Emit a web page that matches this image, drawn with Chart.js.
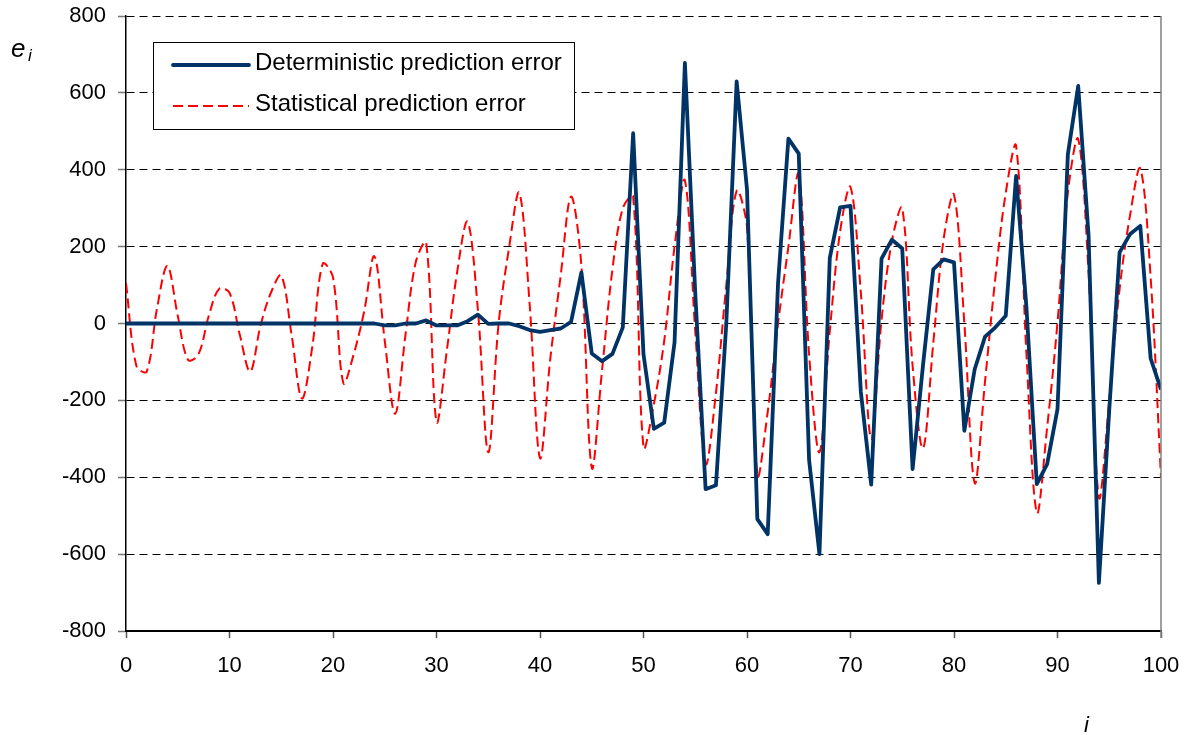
<!DOCTYPE html>
<html lang="en">
<head>
    <meta charset="UTF-8">
    <title>Prediction error</title>
    <script src="https://cdn.jsdelivr.net/npm/chart.js"></script>
    <style>
        body {
            margin: 0;
            background-color: #fff;
        }

        .chart-box {
            width: 1190px;
            height: 735px;
        }
    </style>
</head>
<body>
    <div class="chart-box">
        <canvas id="errChart" width="1190" height="735"></canvas>
    </div>

    <script>
        // step index i = 0..100
        const steps = [];
        for (let i = 0; i <= 100; i++) steps.push(i);

        // deterministic prediction error (solid blue)
        const deterministic = [
            0, 0, 0, 0, 0, 0, 0, 0, 0, 0,
            0, 0, 0, 0, 0, 0, 0, 0, 0, 0,
            0, 0, 0, 0, 0, -5, -5, 0, 0, 8,
            -5, -5, -5, 6, 23, -1, 0, 0, -7, -17,
            -22, -17, -13, 4, 133, -78, -98, -79, -10, 495,
            -80, -274, -258, -49, 678, 80, -431, -421, 0, 630,
            349, -509, -548, 105, 481, 442, -355, -600, 171, 302,
            306, -178, -419, 169, 218, 195, -379, -110, 141, 167,
            159, -279, -119, -34, -10, 20, 384, 42, -418, -366,
            -223, 440, 618, 230, -675, -225, 185, 232, 254, -91,
            -172
        ];

        // statistical prediction error (dashed red)
        const statistical = [
            105, -110, -125, 40, 150, 20, -95, -80, 20, 90,
            80, -30, -125, -5, 80, 125, -30, -195, -60, 155,
            120, -155, -80, 30, 175, -45, -235, -30, 160, 210,
            -255, -70, 135, 265, 35, -335, 0, 195, 340, 50,
            -350, -90, 125, 330, 150, -375, -120, 141, 300, 330,
            -322, -210, -45, 200, 372, -20, -365, -180, 100, 345,
            250, -395, -230, 0, 200, 388, -80, -335, -20, 240,
            355, 80, -300, 10, 215, 300, -110, -325, -50, 220,
            335, 0, -415, -150, 120, 340, 462, -80, -492, -270,
            3, 340, 480, 130, -452, -200, 90, 280, 403, 120,
            -400
        ];

        const xTicks = [0, 10, 20, 30, 40, 50, 60, 70, 80, 90, 100];
        const yTicks = [-800, -600, -400, -200, 0, 200, 400, 600, 800];

        const seriesNames = ['Deterministic prediction error', 'Statistical prediction error'];
        const blue = '#003366';
        const red = '#ff0000';

        // legend box and axis titles drawn straight on the canvas
        const decorations = {
            id: 'decorations',
            afterDraw(chart) {
                const ctx = chart.ctx;
                const area = chart.chartArea;
                ctx.save();

                // right border of plot
                ctx.strokeStyle = '#808080';
                ctx.lineWidth = 1.5;
                ctx.beginPath();
                ctx.moveTo(area.right, area.top);
                ctx.lineTo(area.right, area.bottom + 7);
                ctx.stroke();

                // legend
                const lx = area.left + 27, ly = area.top + 26;
                ctx.fillStyle = '#fff';
                ctx.fillRect(lx, ly, 421, 87);
                ctx.strokeStyle = '#000';
                ctx.lineWidth = 1;
                ctx.strokeRect(lx + 0.5, ly + 0.5, 421, 87);

                chart.data.datasets.forEach((ds, k) => {
                    const yy = ly + 23 + k * 41;
                    ctx.strokeStyle = ds.borderColor;
                    ctx.lineWidth = ds.borderWidth;
                    ctx.setLineDash(ds.borderDash || []);
                    ctx.lineCap = k === 0 ? 'round' : 'butt';
                    ctx.beginPath();
                    ctx.moveTo(lx + 20, yy);
                    ctx.lineTo(lx + 96, yy);
                    ctx.stroke();
                    ctx.setLineDash([]);

                    ctx.fillStyle = '#000';
                    ctx.font = '24px "Liberation Sans", Arial, sans-serif';
                    ctx.textBaseline = 'middle';
                    ctx.textAlign = 'left';
                    ctx.fillText(ds.label, lx + 102, yy - 2);
                });

                // axis titles
                ctx.fillStyle = '#000';
                ctx.textAlign = 'left';
                ctx.textBaseline = 'alphabetic';
                ctx.font = 'italic 26px "Liberation Sans", Arial, sans-serif';
                ctx.fillText('e', 11, 57);
                ctx.font = 'italic 17px "Liberation Sans", Arial, sans-serif';
                ctx.fillText('i', 28, 61);
                ctx.font = 'italic 22px "Liberation Sans", Arial, sans-serif';
                ctx.fillText('i', 1084, 732);

                ctx.restore();
            }
        };

        const ctx = document.getElementById('errChart').getContext('2d');
        new Chart(ctx, {
            type: 'line',
            data: {
                labels: steps,
                datasets: [
                    {
                        label: seriesNames[0],
                        data: deterministic,
                        borderColor: blue,
                        borderWidth: 3.8,
                        pointRadius: 0,
                        tension: 0,
                        borderJoinStyle: 'round',
                        order: 1
                    },
                    {
                        label: seriesNames[1],
                        data: statistical,
                        borderColor: red,
                        borderWidth: 2,
                        borderDash: [10, 5],
                        pointRadius: 0,
                        tension: 0.35,
                        order: 2
                    }
                ]
            },
            options: {
                responsive: false,
                animation: false,
                layout: { padding: { left: 0, right: 29, top: 16, bottom: 0 } },
                plugins: {
                    legend: { display: false },
                    tooltip: { enabled: false }
                },
                scales: {
                    x: {
                        type: 'linear',
                        min: 0,
                        max: 100,
                        afterBuildTicks: (scale) => {
                            scale.ticks = xTicks.map(v => ({ value: v }));
                        },
                        afterFit: (scale) => {
                            scale.height = 104;
                            scale.paddingLeft = 0;
                            scale.paddingRight = 0;
                        },
                        grid: {
                            drawOnChartArea: false,
                            drawTicks: true,
                            tickLength: 7,
                            tickColor: '#555',
                            tickWidth: 1.5
                        },
                        border: { display: true, color: '#000', width: 2 },
                        ticks: {
                            color: '#000',
                            padding: 15,
                            maxRotation: 0,
                            font: { family: '"Liberation Sans", Arial, sans-serif', size: 22 }
                        }
                    },
                    y: {
                        min: -800,
                        max: 800,
                        afterBuildTicks: (scale) => {
                            scale.ticks = yTicks.map(v => ({ value: v }));
                        },
                        afterFit: (scale) => {
                            scale.width = 126;
                            scale.paddingTop = 0;
                            scale.paddingBottom = 0;
                        },
                        grid: {
                            color: '#000',
                            lineWidth: 1,
                            drawTicks: true,
                            tickLength: 8,
                            tickColor: '#777',
                            tickWidth: 1.5,
                            tickBorderDash: []
                        },
                        border: { display: true, color: '#000', width: 1.5, dash: [8, 5] },
                        ticks: {
                            color: '#000',
                            padding: 12,
                            font: { family: '"Liberation Sans", Arial, sans-serif', size: 22 }
                        }
                    }
                }
            },
            plugins: [decorations]
        });
    </script>
</body>
</html>
